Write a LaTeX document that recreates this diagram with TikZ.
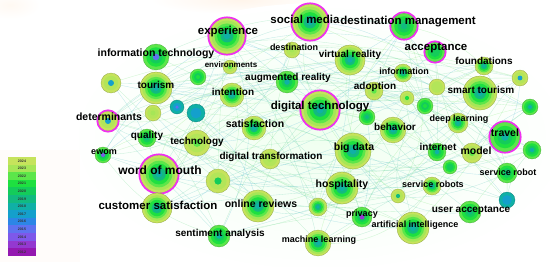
\documentclass[tikz,border=0pt]{standalone}
\usepackage{fontspec}
\setmainfont{Liberation Sans}
\definecolor{c24}{HTML}{C6E35C}
\definecolor{c23}{HTML}{A6E657}
\definecolor{c22}{HTML}{5CE64A}
\definecolor{c21}{HTML}{1EE040}
\definecolor{c20}{HTML}{14CC5A}
\definecolor{c19}{HTML}{12BA80}
\definecolor{c18}{HTML}{10B0A6}
\definecolor{c17}{HTML}{14A0CC}
\definecolor{c16}{HTML}{2C86E6}
\definecolor{c15}{HTML}{5E72F0}
\definecolor{c14}{HTML}{7E58EA}
\definecolor{c13}{HTML}{9438D0}
\definecolor{c12}{HTML}{9418B0}
\definecolor{mag}{HTML}{F030F0}
\newcommand\kwA[2]{%
 \fill[c24,draw=c24!70!black,line width=.25pt] (#1) circle ({#2*1pt});
 \fill[c23] (#1) circle ({0.86*#2pt});
 \fill[c22] (#1) circle ({0.7*#2pt});
 \fill[c21] (#1) circle ({0.55*#2pt});
 \fill[c19] (#1) circle ({0.36*#2pt});
 \fill[c18] (#1) circle ({0.18*#2pt});}
\newcommand\kwY[3]{%
 \fill[c24,draw=c24!70!black,line width=.25pt] (#1) circle ({#2*1pt});
 \fill[c23!60!c24] (#1) circle ({0.72*#2pt});
 \fill[#3] (#1) circle ({0.3*#2pt});}
\newcommand\kwG[3]{%
 \fill[c22,draw=c22!70!black,line width=.25pt] (#1) circle ({#2*1pt});
 \fill[c21] (#1) circle ({0.75*#2pt});
 \fill[c20] (#1) circle ({0.5*#2pt});
 \fill[#3] (#1) circle ({0.25*#2pt});}
\newcommand\kwT[3]{%
 \fill[c18,draw=c18!70!black,line width=.25pt] (#1) circle ({#2*1pt});
 \fill[c17] (#1) circle ({0.6*#2pt});
 \fill[#3] (#1) circle ({0.25*#2pt});}
\newcommand\kwM[2]{\draw[mag,line width=1.7pt] (#1) circle ({#2*1pt+0.7pt});}
\tikzset{
 lab/.style={inner sep=0pt,text=black},
 lhuge/.style={lab,font=\fontsize{12}{13}\selectfont\bfseries},
 lbig/.style={lab,font=\fontsize{11.5}{13}\selectfont\bfseries},
 lmid/.style={lab,font=\fontsize{10.5}{12}\selectfont\bfseries},
 lsm/.style={lab,font=\fontsize{10}{11}\selectfont\bfseries},
 lxs/.style={lab,font=\fontsize{9}{10}\selectfont\bfseries},
 ltiny/.style={lab,font=\fontsize{8}{9}\selectfont\bfseries},
 edge/.style={line width=0.35pt,draw opacity=0.35},
 legtext/.style={inner sep=0pt,font=\fontsize{3.6}{4}\selectfont\bfseries,text=black!80}
}
\begin{document}
\begin{tikzpicture}[x=1pt,y=-1pt]
\useasboundingbox (0,0) rectangle (550,266);
\fill[white] (0,0) rectangle (550,266);
% faint background glows
\shade[inner color=orange!8,outer color=white] (240,0) ellipse (90pt and 14pt);
\shade[inner color=orange!5,outer color=white] (10,5) ellipse (30pt and 14pt);
\shade[inner color=green!6,outer color=white] (320,138) ellipse (250pt and 135pt);
\fill[orange!2] (0,150) rectangle (80,262);
% coordinates of keywords
\coordinate (exp) at (227,36);
\coordinate (itech) at (156,57);
\coordinate (env) at (230,67);
\coordinate (n1) at (111,83);
\coordinate (tour) at (156,88);
\coordinate (n2) at (198,77);
\coordinate (inten) at (232,95);
\coordinate (t1) at (177,107);
\coordinate (t2) at (196,113);
\coordinate (y1) at (153,113);
\coordinate (deter) at (108,121);
\coordinate (satis) at (254,128);
\coordinate (augr) at (287,82);
\coordinate (digt) at (320,110);
\coordinate (g1) at (367,117);
\coordinate (adop) at (374,91);
\coordinate (behav) at (393,130);
\coordinate (techn) at (197,143);
\coordinate (qual) at (147,138);
\coordinate (digtr) at (270,159);
\coordinate (bigd) at (353,151);
\coordinate (wom) at (159,174);
\coordinate (y2) at (218,181);
\coordinate (hosp) at (342,188);
\coordinate (socm) at (310,22);
\coordinate (destm) at (404,26);
\coordinate (dest) at (292,50);
\coordinate (vr) at (350,60);
\coordinate (accep) at (435,52);
\coordinate (found) at (484,66);
\coordinate (info) at (403,73);
\coordinate (y3) at (437,87);
\coordinate (smt) at (480,93);
\coordinate (y4) at (520,78);
\coordinate (g2) at (530,107);
\coordinate (y5) at (407,98);
\coordinate (g3) at (425,106);
\coordinate (deepl) at (458,123);
\coordinate (trav) at (505,137);
\coordinate (g5) at (532,150);
\coordinate (inet) at (437,152);
\coordinate (model) at (472,153);
\coordinate (g6) at (450,167);
\coordinate (srob) at (507,173);
\coordinate (srobs) at (432,186);
\coordinate (y6) at (398,196);
\coordinate (t3) at (507,200);
\coordinate (uacc) at (470,212);
\coordinate (g7) at (318,207);
\coordinate (priv) at (362,217);
\coordinate (ai) at (413,228);
\coordinate (ml) at (318,243);
\coordinate (onr) at (258,206);
\coordinate (ewom) at (103,155);
\coordinate (cust) at (157,208);
\coordinate (sent) at (219,236);
% connectors
\pgfmathsetseed{4217}
\foreach \a [count=\i] in {exp,itech,env,n1,tour,n2,inten,t1,t2,y1,deter,satis,augr,digt,g1,adop,behav,techn,qual,digtr,bigd,wom,y2,hosp,socm,destm,dest,vr,accep,found,info,y3,smt,y4,g2,y5,g3,deepl,trav,g5,inet,model,g6,srob,srobs,y6,t3,uacc,g7,priv,ai,ml,onr,ewom,cust,sent}{
  \foreach \b [count=\j] in {exp,itech,env,n1,tour,n2,inten,t1,t2,y1,deter,satis,augr,digt,g1,adop,behav,techn,qual,digtr,bigd,wom,y2,hosp,socm,destm,dest,vr,accep,found,info,y3,smt,y4,g2,y5,g3,deepl,trav,g5,inet,model,g6,srob,srobs,y6,t3,uacc,g7,priv,ai,ml,onr,ewom,cust,sent}{
    \ifnum\j>\i
      \pgfmathtruncatemacro\ok{rnd<0.14?1:0}
      \ifnum\ok=1
        \pgfmathsetmacro\bb{rand*35}
        \pgfmathtruncatemacro\mm{rnd*100}
        \draw[edge,color=c17!\mm!c22!75!white] (\a) to[bend left=\bb] (\b);
      \fi
    \fi
  }
}
% bubbles
\kwA{exp}{18}\kwM{exp}{18}
\kwG{itech}{13}{c15}
\kwY{env}{7}{c22}
\kwY{n1}{10}{c17}
\kwA{tour}{16}
\kwG{n2}{8}{c21}
\kwA{inten}{12}
\kwT{t1}{7}{c15}
\kwT{t2}{9}{c17}
\kwY{y1}{8}{c23}
\kwY{deter}{10}{c17}\kwM{deter}{10}
\kwA{satis}{12}
\kwG{augr}{11}{c18}
\kwA{digt}{19}\kwM{digt}{19}
\kwG{g1}{8}{c19}
\kwY{adop}{9}{c22}
\kwA{behav}{13}
\kwY{techn}{13}{c22}
\kwG{qual}{9}{c19}
\kwY{digtr}{10}{c23}
\kwA{bigd}{18}
\kwA{wom}{19}\kwM{wom}{19}
\kwY{y2}{12}{c20}
\kwA{hosp}{16}
\kwA{socm}{18}\kwM{socm}{18}
\kwG{destm}{13}{c19}\kwM{destm}{13}
\kwY{dest}{8}{c23}
\kwA{vr}{15}
\kwG{accep}{10}{c20}\kwM{accep}{10}
\kwA{found}{9}
\kwA{info}{9}
\kwY{y3}{8}{c23!60!c24}
\kwA{smt}{17}
\kwY{y4}{8}{c17}
\kwG{g2}{8}{c18}
\kwY{y5}{7}{c21}
\kwG{g3}{8}{c21}
\kwA{deepl}{10}
\kwG{trav}{15}{c18}\kwM{trav}{15}
\kwG{g5}{9}{c18}
\kwG{inet}{9}{c18}
\kwY{model}{10}{c22}
\kwG{g6}{7}{c20}
\kwG{srob}{10}{c19}
\kwA{srobs}{9}
\kwY{y6}{7}{c19}
\kwT{t3}{8}{c17}
\kwG{uacc}{11}{c19}
\kwA{g7}{9}
\kwG{priv}{10}{c13}
\kwA{ai}{16}
\kwA{ml}{13}
\kwA{onr}{16}
\kwG{ewom}{8}{c14}
\kwA{cust}{15}
\kwG{sent}{11}{c18}
% labels
\node[lbig] (l-exp) at (228,32) {experience};
\node[lmid] (l-itech) at (156,54) {information technology};
\node[ltiny] (l-env) at (231,65) {environments};
\node[lsm] (l-tour) at (156,85) {tourism};
\node[lsm] (l-inten) at (233,92) {intention};
\node[lmid] (l-deter) at (109,117) {determinants};
\node[lmid] (l-satis) at (255,124) {satisfaction};
\node[lsm] (l-augr) at (288,78) {augmented reality};
\node[lbig] (l-digt) at (320,107) {digital technology};
\node[lsm] (l-adop) at (375,87) {adoption};
\node[lsm] (l-behav) at (395,127) {behavior};
\node[lsm] (l-techn) at (197,142) {technology};
\node[lsm] (l-qual) at (147,136) {quality};
\node[lsm] (l-digtr) at (271,157) {digital transformation};
\node[lmid] (l-bigd) at (354,148) {big data};
\node[lhuge] (l-wom) at (160,170) {word of mouth};
\node[lmid] (l-hosp) at (342,185) {hospitality};
\node[lbig] (l-socm) at (305,19) {social media};
\node[lbig] (l-destm) at (408,22) {destination management};
\node[lxs] (l-dest) at (294,47) {destination};
\node[lsm] (l-vr) at (350,55) {virtual reality};
\node[lbig] (l-accep) at (436,48) {acceptance};
\node[lsm] (l-found) at (484,61) {foundations};
\node[lxs] (l-info) at (404,71) {information};
\node[lsm] (l-smt) at (481,90) {smart tourism};
\node[lxs] (l-deepl) at (459,119) {deep learning};
\node[lmid] (l-trav) at (505,133) {travel};
\node[lsm] (l-inet) at (438,147) {internet};
\node[lmid] (l-model) at (476,151) {model};
\node[lxs] (l-srob) at (508,172) {service robot};
\node[lxs] (l-srobs) at (433,184) {service robots};
\node[lsm] (l-uacc) at (471,210) {user acceptance};
\node[lxs] (l-priv) at (362,214) {privacy};
\node[lxs] (l-ai) at (415,225) {artificial intelligence};
\node[lxs] (l-ml) at (319,240) {machine learning};
\node[lmid] (l-onr) at (261,204) {online reviews};
\node[lxs] (l-ewom) at (104,152) {ewom};
\node[lbig] (l-cust) at (158,205) {customer satisfaction};
\node[lsm] (l-sent) at (220,234) {sentiment analysis};
% legend
\foreach \yr/\cc [count=\k] in {2024/c24,2023/c23,2022/c22,2021/c21,2020/c20,2019/c19,2018/c18,2017/c17,2016/c16,2015/c15,2014/c14,2013/c13,2012/c12}{
  \fill[\cc] (8,{157+(\k-1)*7.6}) rectangle (36,{157+\k*7.6});
  \node[legtext] (leg\k) at (22,{157+(\k-0.5)*7.6}) {\yr};
}
\end{tikzpicture}
\end{document}
